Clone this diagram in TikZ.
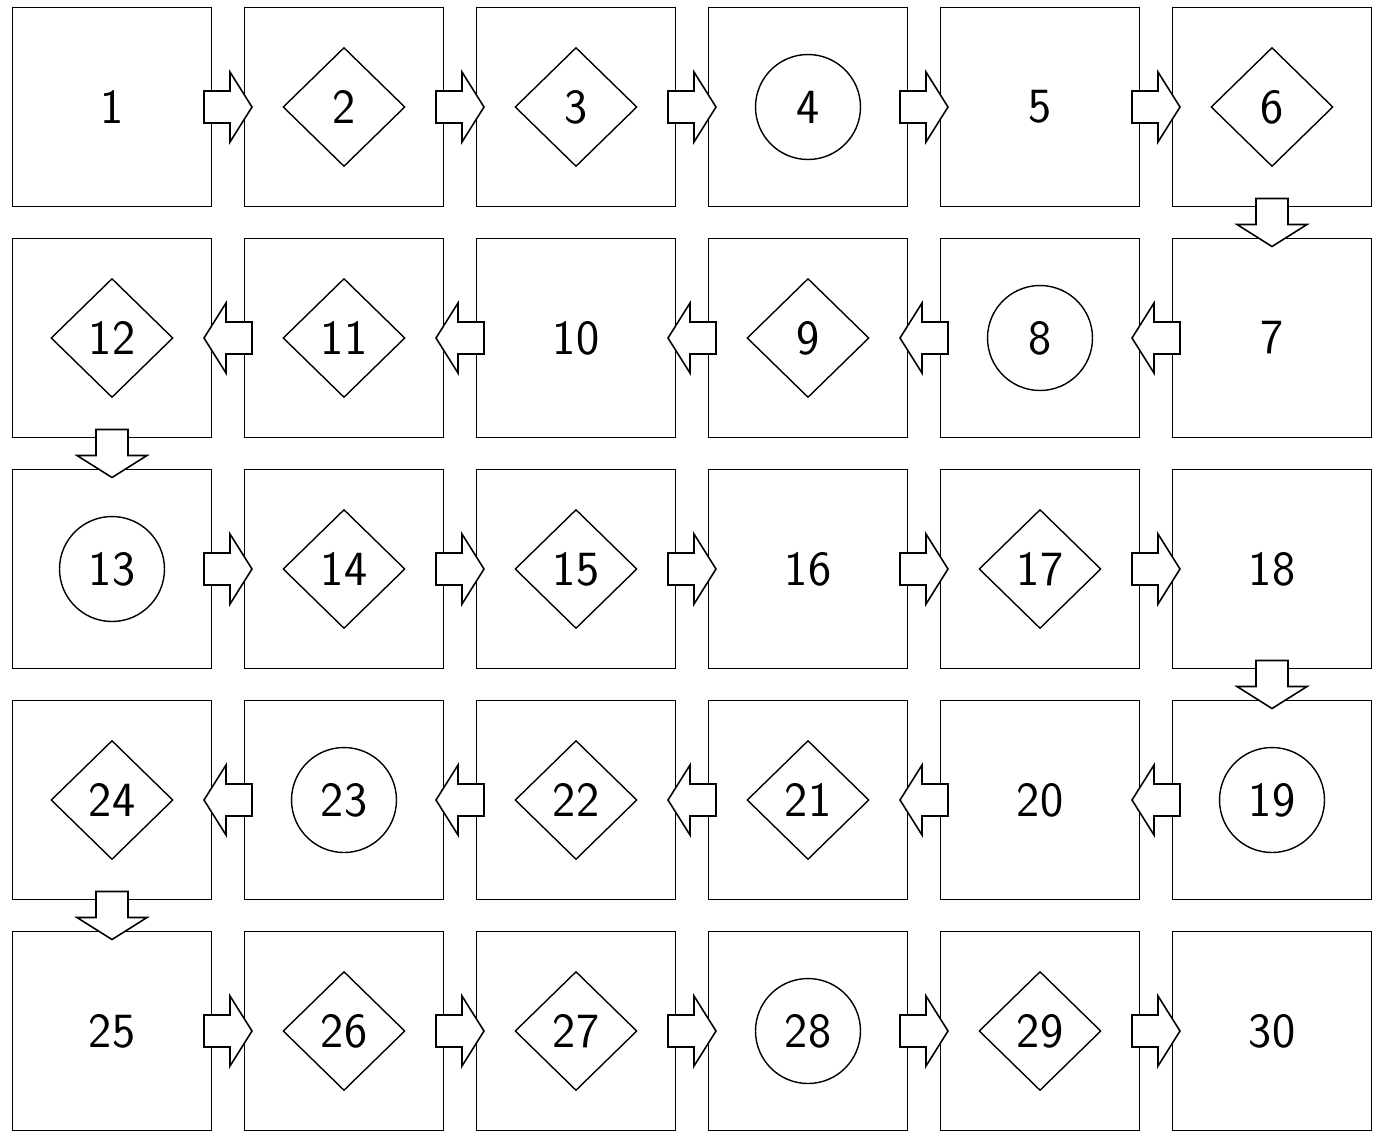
\documentclass[tikz,border=0pt]{standalone}
\usetikzlibrary{shapes.geometric,calc}

\tikzset{
  cell/.style={draw, line width=0.9pt, minimum size=3.98cm, inner sep=0pt,
    font=\sffamily\fontsize{28}{32}\selectfont},
  dia/.style={draw, diamond, line width=0.8pt, minimum width=2.44cm,
    minimum height=2.38cm, inner sep=0pt, font=\sffamily\fontsize{28}{32}\selectfont},
  ring/.style={draw, circle, line width=0.8pt, minimum size=2.1cm, inner sep=0pt,
    font=\sffamily\fontsize{28}{32}\selectfont},
  blk/.style={draw, fill=white, line width=0.9pt, line join=miter},
}

% block arrow in the gap between two cells
\newcommand{\flowarrow}[3]{%
  \begin{scope}[shift={($(#1.center)!0.5!(#2.center)$)}, rotate=#3]
    \draw[blk] (-24,-16) -- (2,-16) -- (2,-35) -- (24,0) -- (2,35) -- (2,16) -- (-24,16) -- cycle;
  \end{scope}}

\begin{document}
\begin{tikzpicture}[x=0.02cm, y=-0.02cm]
        \useasboundingbox (0,0) rectangle (1379,1140);

            % row 1
            \node[cell] (c1) at (112,107) {1};
            \node[cell] (c2) at (344,107) {}; \node[dia] (d2) at (c2) {2};
            \node[cell] (c3) at (576,107) {}; \node[dia] (d3) at (c3) {3};
            \node[cell] (c4) at (808,107) {}; \node[ring] (o4) at (c4) {4};
            \node[cell] (c5) at (1040,107) {5};
            \node[cell] (c6) at (1272,107) {}; \node[dia] (d6) at (c6) {6};

            % row 2
            \node[cell] (c7) at (1272,338) {7};
            \node[cell] (c8) at (1040,338) {}; \node[ring] (o8) at (c8) {8};
            \node[cell] (c9) at (808,338) {}; \node[dia] (d9) at (c9) {9};
            \node[cell] (c10) at (576,338) {10};
            \node[cell] (c11) at (344,338) {}; \node[dia] (d11) at (c11) {11};
            \node[cell] (c12) at (112,338) {}; \node[dia] (d12) at (c12) {12};

            % row 3
            \node[cell] (c13) at (112,569) {}; \node[ring] (o13) at (c13) {13};
            \node[cell] (c14) at (344,569) {}; \node[dia] (d14) at (c14) {14};
            \node[cell] (c15) at (576,569) {}; \node[dia] (d15) at (c15) {15};
            \node[cell] (c16) at (808,569) {16};
            \node[cell] (c17) at (1040,569) {}; \node[dia] (d17) at (c17) {17};
            \node[cell] (c18) at (1272,569) {18};

            % row 4
            \node[cell] (c19) at (1272,800) {}; \node[ring] (o19) at (c19) {19};
            \node[cell] (c20) at (1040,800) {20};
            \node[cell] (c21) at (808,800) {}; \node[dia] (d21) at (c21) {21};
            \node[cell] (c22) at (576,800) {}; \node[dia] (d22) at (c22) {22};
            \node[cell] (c23) at (344,800) {}; \node[ring] (o23) at (c23) {23};
            \node[cell] (c24) at (112,800) {}; \node[dia] (d24) at (c24) {24};

            % row 5
            \node[cell] (c25) at (112,1031) {25};
            \node[cell] (c26) at (344,1031) {}; \node[dia] (d26) at (c26) {26};
            \node[cell] (c27) at (576,1031) {}; \node[dia] (d27) at (c27) {27};
            \node[cell] (c28) at (808,1031) {}; \node[ring] (o28) at (c28) {28};
            \node[cell] (c29) at (1040,1031) {}; \node[dia] (d29) at (c29) {29};
            \node[cell] (c30) at (1272,1031) {30};

            % arrows
            \flowarrow{c1}{c2}{0}   \flowarrow{c2}{c3}{0}   \flowarrow{c3}{c4}{0}
            \flowarrow{c4}{c5}{0}   \flowarrow{c5}{c6}{0}   \flowarrow{c6}{c7}{-90}
            \flowarrow{c7}{c8}{180} \flowarrow{c8}{c9}{180} \flowarrow{c9}{c10}{180}
            \flowarrow{c10}{c11}{180} \flowarrow{c11}{c12}{180} \flowarrow{c12}{c13}{-90}
            \flowarrow{c13}{c14}{0} \flowarrow{c14}{c15}{0} \flowarrow{c15}{c16}{0}
            \flowarrow{c16}{c17}{0} \flowarrow{c17}{c18}{0} \flowarrow{c18}{c19}{-90}
            \flowarrow{c19}{c20}{180} \flowarrow{c20}{c21}{180} \flowarrow{c21}{c22}{180}
            \flowarrow{c22}{c23}{180} \flowarrow{c23}{c24}{180} \flowarrow{c24}{c25}{-90}
            \flowarrow{c25}{c26}{0} \flowarrow{c26}{c27}{0} \flowarrow{c27}{c28}{0}
            \flowarrow{c28}{c29}{0} \flowarrow{c29}{c30}{0}

        \end{tikzpicture}
\end{document}
